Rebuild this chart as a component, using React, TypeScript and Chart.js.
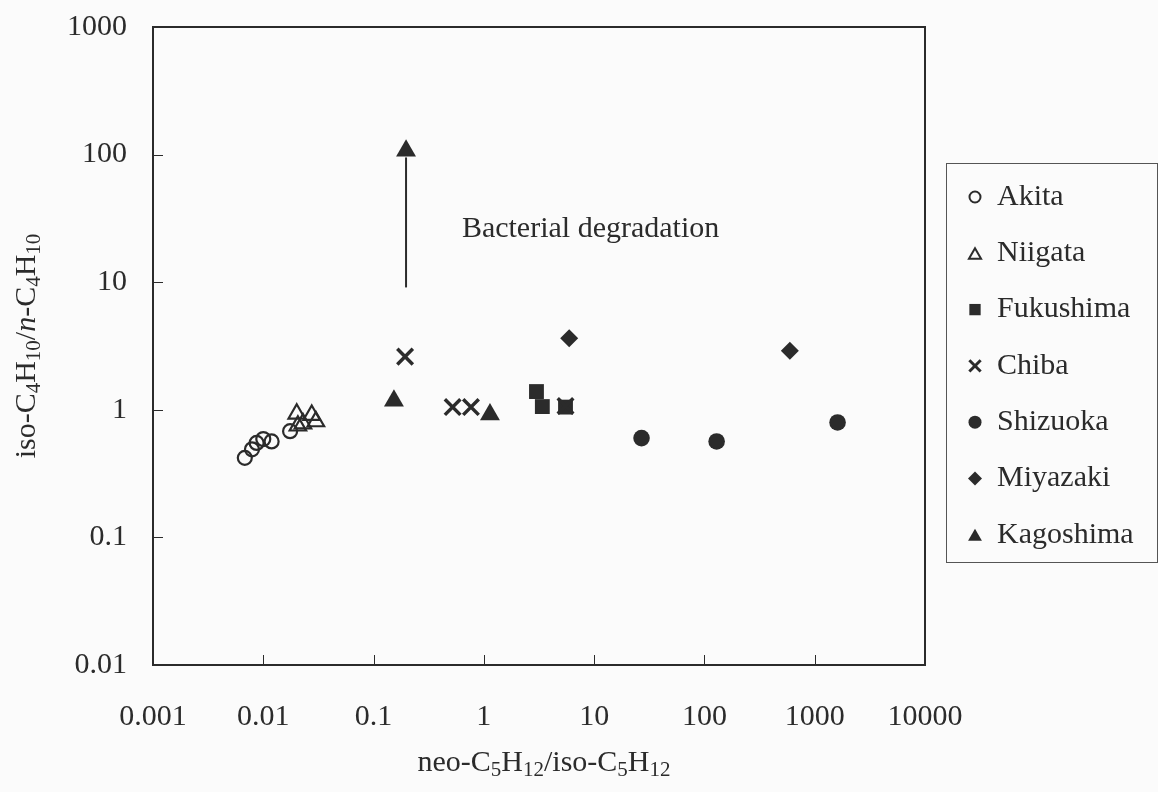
import React, { useEffect, useRef } from 'react';
import { Chart, registerables } from 'chart.js';
import { drawPoint } from 'chart.js/helpers';

Chart.register(...registerables);

const FONT = "'Liberation Serif', 'Times New Roman', Times, serif";
const INK = '#2b2b2b';
const FS = 30;

// ---- axis ticks ----
const xTickValues = [0.001, 0.01, 0.1, 1, 10, 100, 1000, 10000];
const xTickLabels = ['0.001', '0.01', '0.1', '1', '10', '100', '1000', '10000'];
const yTickValues = [0.01, 0.1, 1, 10, 100, 1000];
const yTickLabels = ['0.01', '0.1', '1', '10', '100', '1000'];

// ---- series (x = neo-C5H12/iso-C5H12, y = iso-C4H10/n-C4H10) ----
const seriesNames = ['Akita', 'Niigata', 'Fukushima', 'Chiba', 'Shizuoka', 'Miyazaki', 'Kagoshima'];

const akitaX = [0.0068, 0.0079, 0.0087, 0.0100, 0.0119, 0.0175];
const akitaY = [0.42, 0.49, 0.55, 0.59, 0.565, 0.68];

const niigataX = [0.0201, 0.0275, 0.0206, 0.0229, 0.030];
const niigataY = [0.93, 0.91, 0.75, 0.78, 0.81];

const fukushimaX = [3.0, 3.39, 5.5];
const fukushimaY = [1.39, 1.06, 1.05];

const chibaX = [0.193, 0.521, 0.764, 5.5];
const chibaY = [2.61, 1.05, 1.05, 1.07];

const shizuokaX = [26.9, 129, 1611];
const shizuokaY = [0.60, 0.565, 0.796];

const miyazakiX = [5.94, 595];
const miyazakiY = [3.63, 2.9];

const kagoshimaX = [0.153, 1.136, 0.197];
const kagoshimaY = [1.18, 0.92, 107];

// arrow shaft (bacterial degradation)
const arrowX = [0.197, 0.197];
const arrowY = [9.1, 95];
const annotationText = 'Bacterial degradation';
const annotationX = 0.632;
const annotationY = 26;

type Seg = { t: string; sub?: boolean; it?: boolean };
const xTitle: Seg[] = [
  { t: 'neo-C' }, { t: '5', sub: true }, { t: 'H' }, { t: '12', sub: true },
  { t: '/iso-C' }, { t: '5', sub: true }, { t: 'H' }, { t: '12', sub: true },
];
const yTitle: Seg[] = [
  { t: 'iso-C' }, { t: '4', sub: true }, { t: 'H' }, { t: '10', sub: true },
  { t: '/' }, { t: 'n', it: true }, { t: '-C' }, { t: '4', sub: true }, { t: 'H' }, { t: '10', sub: true },
];

type Marker = { pointStyle: any; radius: number; fill: boolean; borderWidth: number };
const markers: Marker[] = [
  { pointStyle: 'circle', radius: 7, fill: false, borderWidth: 2.2 },
  { pointStyle: 'triangle', radius: 9.5, fill: false, borderWidth: 2.2 },
  { pointStyle: 'rect', radius: 10.5, fill: true, borderWidth: 0 },
  { pointStyle: 'crossRot', radius: 11, fill: false, borderWidth: 3.5 },
  { pointStyle: 'circle', radius: 8.3, fill: true, borderWidth: 0 },
  { pointStyle: 'rectRot', radius: 9, fill: true, borderWidth: 0 },
  { pointStyle: 'triangle', radius: 11.5, fill: true, borderWidth: 0 },
];
const legendMarkers: Marker[] = [
  { pointStyle: 'circle', radius: 5.5, fill: false, borderWidth: 2 },
  { pointStyle: 'triangle', radius: 7, fill: false, borderWidth: 2 },
  { pointStyle: 'rect', radius: 8, fill: true, borderWidth: 0 },
  { pointStyle: 'crossRot', radius: 8, fill: false, borderWidth: 3 },
  { pointStyle: 'circle', radius: 6.5, fill: true, borderWidth: 0 },
  { pointStyle: 'rectRot', radius: 7, fill: true, borderWidth: 0 },
  { pointStyle: 'triangle', radius: 8, fill: true, borderWidth: 0 },
];

const pts = (xs: number[], ys: number[]) => xs.map((x, i) => ({ x, y: ys[i] }));

function drawRich(ctx: CanvasRenderingContext2D, segs: Seg[], cx: number, cy: number, size: number) {
  const subSize = Math.round(size * 0.7);
  const fontOf = (s: Seg) => `${s.it ? 'italic ' : ''}${s.sub ? subSize : size}px ${FONT}`;
  let total = 0;
  for (const s of segs) { ctx.font = fontOf(s); total += ctx.measureText(s.t).width; }
  let x = cx - total / 2;
  ctx.textAlign = 'left';
  ctx.textBaseline = 'middle';
  for (const s of segs) {
    ctx.font = fontOf(s);
    ctx.fillText(s.t, x, cy + (s.sub ? size * 0.25 : 0));
    x += ctx.measureText(s.t).width;
  }
}

const framePlugin = {
  id: 'frameAndExtras',
  afterDatasetsDraw(chart: any) {
    const ctx: CanvasRenderingContext2D = chart.ctx;
    const { left, right, top, bottom } = chart.chartArea;
    const xs = chart.scales.x;
    const ys = chart.scales.y;
    ctx.save();
    // frame
    ctx.strokeStyle = INK;
    ctx.lineWidth = 2;
    ctx.strokeRect(left, top, right - left, bottom - top);
    // inward ticks
    ctx.lineWidth = 1;
    ctx.beginPath();
    xTickValues.slice(1, -1).forEach((v) => {
      const px = Math.round(xs.getPixelForValue(v)) + 0.5;
      ctx.moveTo(px, bottom);
      ctx.lineTo(px, bottom - 10);
    });
    yTickValues.slice(1, -1).forEach((v) => {
      const py = Math.round(ys.getPixelForValue(v)) + 0.5;
      ctx.moveTo(left, py);
      ctx.lineTo(left + 10, py);
    });
    ctx.stroke();
    // annotation
    ctx.fillStyle = INK;
    ctx.font = `${FS}px ${FONT}`;
    ctx.textAlign = 'left';
    ctx.textBaseline = 'middle';
    ctx.fillText(annotationText, xs.getPixelForValue(annotationX), ys.getPixelForValue(annotationY));
    // axis titles
    drawRich(ctx, xTitle, (left + right) / 2 + 5, 763, FS);
    ctx.translate(27, (top + bottom) / 2);
    ctx.rotate(-Math.PI / 2);
    drawRich(ctx, yTitle, 0, 0, FS);
    ctx.restore();

    // legend
    ctx.save();
    const bx = 946, by = 163, bw = 211, bh = 399;
    ctx.strokeStyle = '#555';
    ctx.lineWidth = 1;
    ctx.strokeRect(bx + 0.5, by + 0.5, bw, bh);
    seriesNames.forEach((name, i) => {
      const cy = 197 + i * 56.3;
      const m = legendMarkers[i];
      ctx.fillStyle = m.fill ? INK : 'rgba(0,0,0,0)';
      ctx.strokeStyle = INK;
      ctx.lineWidth = m.borderWidth;
      drawPoint(ctx, { pointStyle: m.pointStyle, radius: m.radius, rotation: 0, borderWidth: m.borderWidth } as any, 975, cy + (m.pointStyle === 'triangle' ? 2 : 0));
      ctx.fillStyle = INK;
      ctx.font = `${FS}px ${FONT}`;
      ctx.textAlign = 'left';
      ctx.textBaseline = 'middle';
      ctx.fillText(name, 997, cy);
    });
    ctx.restore();
  },
};

export default function App() {
  const ref = useRef<HTMLCanvasElement | null>(null);
  useEffect(() => {
    document.body.style.margin = '0';
    document.body.style.background = '#fbfbfb';
    const canvas = ref.current!;
    const seriesX = [akitaX, niigataX, fukushimaX, chibaX, shizuokaX, miyazakiX, kagoshimaX];
    const seriesY = [akitaY, niigataY, fukushimaY, chibaY, shizuokaY, miyazakiY, kagoshimaY];
    const datasets: any[] = seriesNames.map((name, i) => {
      const m = markers[i];
      return {
        label: name,
        data: pts(seriesX[i], seriesY[i]),
        showLine: false,
        pointStyle: m.pointStyle,
        pointRadius: m.radius,
        pointBackgroundColor: m.fill ? INK : 'rgba(0,0,0,0)',
        pointBorderColor: INK,
        pointBorderWidth: m.borderWidth,
        order: name === 'Chiba' ? 0 : 1,
      };
    });
    datasets.push({
      label: 'arrow',
      data: pts(arrowX, arrowY),
      showLine: true,
      borderColor: INK,
      borderWidth: 2,
      pointRadius: 0,
      order: 10,
    });
    const tickFont = { family: FONT, size: FS };
    const chart = new Chart(canvas, {
      type: 'scatter',
      data: { datasets },
      plugins: [framePlugin],
      options: {
        animation: false,
        responsive: false,
        devicePixelRatio: 1,
        events: [],
        layout: { padding: { left: 0, right: 233, top: 27, bottom: 0 } },
        plugins: { legend: { display: false }, tooltip: { enabled: false } },
        scales: {
          x: {
            type: 'logarithmic',
            min: 0.001,
            max: 10000,
            afterBuildTicks: (s: any) => { s.ticks = xTickValues.map((v) => ({ value: v })); },
            afterFit: (s: any) => { s.height = 127; s.paddingLeft = 0; s.paddingRight = 0; },
            ticks: {
              autoSkip: false,
              maxRotation: 0,
              padding: 34,
              color: INK,
              font: tickFont,
              callback: (_v: any, i: number) => xTickLabels[i],
            },
            grid: { display: false, drawTicks: false },
            border: { display: false },
          },
          y: {
            type: 'logarithmic',
            min: 0.01,
            max: 1000,
            afterBuildTicks: (s: any) => { s.ticks = yTickValues.map((v) => ({ value: v })); },
            afterFit: (s: any) => { s.width = 153; s.paddingTop = 0; s.paddingBottom = 0; },
            ticks: {
              autoSkip: false,
              padding: 26,
              color: INK,
              font: tickFont,
              callback: (_v: any, i: number) => yTickLabels[i],
            },
            grid: { display: false, drawTicks: false },
            border: { display: false },
          },
        },
      } as any,
    });
    return () => chart.destroy();
  }, []);
  return (
    <div style={{ width: 1158, height: 792, position: 'relative' }}>
      <canvas ref={ref} width={1158} height={792} style={{ display: 'block' }} />
    </div>
  );
}
